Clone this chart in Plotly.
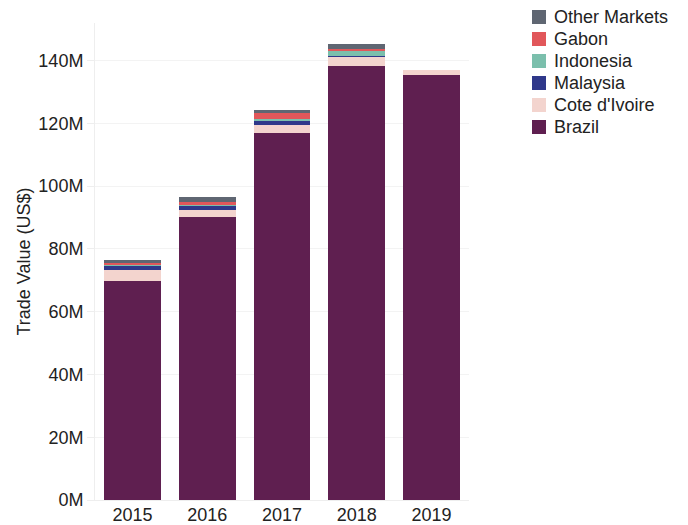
import plotly.graph_objects as go

years = ["2015", "2016", "2017", "2018", "2019"]

# Trade value by market, US$ millions
brazil = [69.8, 90.2, 117.0, 138.4, 135.5]
cote_divoire = [3.4, 2.1, 2.45, 2.9, 1.6]
malaysia = [1.4, 1.5, 1.3, 0.3, 0.0]
indonesia = [0.3, 0.2, 0.75, 1.6, 0.0]
gabon = [0.5, 0.85, 1.8, 0.65, 0.0]
other_markets = [1.05, 1.7, 0.95, 1.5, 0.0]

tick_values = [0, 20, 40, 60, 80, 100, 120, 140]
tick_labels = ["0M", "20M", "40M", "60M", "80M", "100M", "120M", "140M"]

series = [
    ("Brazil", brazil, "#5f1f50"),
    ("Cote d'Ivoire", cote_divoire, "#f3d4ce"),
    ("Malaysia", malaysia, "#2f388a"),
    ("Indonesia", indonesia, "#7bbfac"),
    ("Gabon", gabon, "#e1575a"),
    ("Other Markets", other_markets, "#5f6672"),
]

W, H = 688, 525
M_L, M_R, M_T, M_B = 95, 219, 23, 25
plot_w = W - M_L - M_R
plot_h = H - M_T - M_B


def px_to_paper(x, y):
    return (x - M_L) / plot_w, 1 - (y - M_T) / plot_h


fig = go.Figure()
for name, vals, color in series:
    fig.add_trace(go.Bar(
        x=years,
        y=[v * 1e6 for v in vals],
        name=name,
        marker=dict(color=color, line=dict(width=0)),
        showlegend=False,
    ))

# Legend drawn as swatches + labels, top entry = last stacked series
shapes = []
annotations = []
for i, (name, vals, color) in enumerate(reversed(series)):
    cy = 17 + 22 * i
    x0, y0 = px_to_paper(532, cy - 7)
    x1, y1 = px_to_paper(546, cy + 7)
    shapes.append(dict(type="rect", xref="paper", yref="paper",
                       x0=x0, x1=x1, y0=y1, y1=y0,
                       fillcolor=color, line=dict(width=0)))
    tx, ty = px_to_paper(552, cy)
    annotations.append(dict(xref="paper", yref="paper", x=tx, y=ty,
                            text=name, showarrow=False,
                            xanchor="left", yanchor="middle",
                            font=dict(size=18, color="#222222")))

fig.update_layout(
    width=W,
    height=H,
    barmode="stack",
    bargap=0.24,
    plot_bgcolor="white",
    paper_bgcolor="white",
    font=dict(family="Liberation Sans, Arial, sans-serif", size=18, color="#222222"),
    margin=dict(l=M_L, r=M_R, t=M_T, b=M_B, autoexpand=False),
    showlegend=False,
    shapes=shapes,
    annotations=annotations,
    xaxis=dict(
        automargin=False,
        showgrid=False,
        showline=True,
        linecolor="#eeeeee",
        ticks="",
        ticklabelstandoff=-2,
        tickfont=dict(size=18),
    ),
    yaxis=dict(
        automargin=False,
        title=dict(text="Trade Value (US$)", font=dict(size=18), standoff=3),
        range=[0, 152e6],
        tickvals=[v * 1e6 for v in tick_values],
        ticktext=tick_labels,
        showgrid=True,
        gridcolor="#f3f3f3",
        showline=True,
        linecolor="#eeeeee",
        zeroline=False,
        ticks="outside",
        ticklen=7,
        tickcolor="#eeeeee",
        tickfont=dict(size=18),
    ),
)

fig.write_html("out.html")
